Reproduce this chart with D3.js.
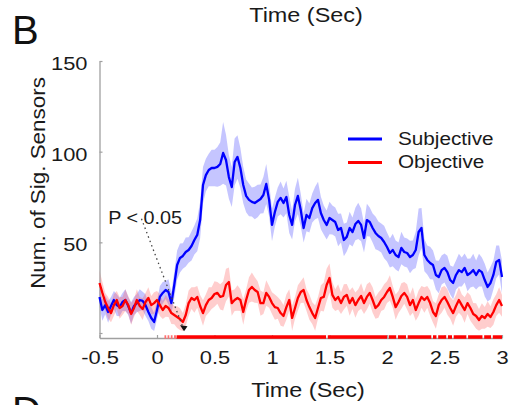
<!DOCTYPE html>
<html><head><meta charset="utf-8">
<script src="https://cdn.jsdelivr.net/npm/d3@7"></script>
<style>
html,body{margin:0;padding:0;background:#fff;}
svg{display:block;font-family:"Liberation Sans",Arial,Helvetica,sans-serif;}
</style></head><body>
<svg id="chart" width="514" height="405"></svg>
<script>
// ---------- data ----------
const timeStart = -0.5, timeStep = 0.025;
const subjectiveMean = [19.9,12.7,15.4,11.6,14.9,18.2,15.4,14.3,17.1,18.2,
14.9,11.0,14.9,16.5,18.2,17.7,15.4,11.6,8.3,6.1,
12.7,19.9,22.1,23.7,22.6,16.5,26.5,37.5,41.4,42.5,
44.7,45.8,48.0,51.3,54.1,62.3,81.6,87.1,89.9,91.0,
91.0,91.6,93.2,99.3,95.4,86.0,80.5,94.3,97.1,91.0,
81.6,75.6,73.4,72.3,71.7,72.8,73.9,76.1,82.2,73.4,
59.6,66.7,72.3,74.5,71.7,75.0,65.1,59.6,70.6,75.6,
67.8,57.9,65.1,63.4,68.9,71.7,73.4,66.2,62.3,59.6,
63.4,62.3,61.2,56.8,57.9,51.3,53.0,57.9,55.7,60.1,
61.8,59.6,52.4,62.3,61.2,57.9,55.2,53.5,52.4,50.2,
47.4,44.1,45.8,43.0,41.9,46.9,44.7,44.1,41.9,43.0,
45.8,55.7,57.9,43.0,40.3,38.6,37.5,32.0,30.9,34.7,
35.9,33.6,29.2,27.6,32.0,34.7,33.6,35.9,32.0,33.1,
34.7,32.0,34.7,33.6,29.2,25.4,27.6,32.0,39.2,40.3,
30.9];
const subjectiveErr = [5,6,5,6,5,5,6,5,5,6,
5,6,5,5,6,5,6,5,6,5,
5,6,6,5,7,6,7,8,8,7,
8,7,8,8,9,10,10,9,9,10,
10,11,12,17,14,12,11,13,12,11,
10,9,9,8,9,9,8,10,11,9,
9,8,8,9,8,9,10,8,9,10,
9,8,9,8,8,9,10,9,8,8,
9,8,8,9,8,9,8,9,8,9,
10,9,8,9,8,8,9,8,8,9,
8,8,9,8,8,9,8,8,9,8,
10,13,11,9,8,9,8,8,9,8,
8,9,8,9,8,9,8,8,9,8,
9,8,9,8,9,8,9,8,9,8,
9];
const objectiveMean = [27.6,22.1,17.1,13.8,11.0,15.4,18.2,13.8,14.9,18.2,
15.4,10.5,13.8,18.2,14.9,13.2,17.1,19.3,15.4,16.5,
18.2,15.4,12.7,14.9,13.8,11.0,9.9,8.8,7.7,6.1,
9.9,16.5,19.3,18.2,19.9,14.9,11.0,15.4,18.2,19.3,
21.5,22.1,19.9,20.4,26.5,28.1,16.5,18.2,19.3,18.2,
11.6,18.2,23.7,25.4,23.7,22.6,16.5,16.5,22.1,19.9,
16.5,14.3,13.8,11.0,9.4,14.3,18.2,8.3,13.8,19.3,
22.6,23.7,18.2,14.3,11.0,8.3,13.8,19.3,19.9,26.5,
30.3,21.0,18.2,19.9,16.5,19.9,21.0,16.5,19.3,15.4,
18.2,20.4,16.5,19.9,22.1,18.2,13.8,15.4,18.2,19.9,
22.6,24.8,19.9,14.3,17.1,20.4,22.1,19.9,15.4,18.2,
12.7,16.5,19.9,18.2,19.9,16.5,11.6,9.4,15.4,18.2,
19.9,17.1,13.8,11.0,14.9,18.2,15.4,12.7,16.5,13.8,
10.5,9.4,7.2,9.4,8.3,10.5,8.8,11.6,15.4,18.2,
14.9];
const objectiveErr = [7,6,5,6,5,6,5,6,5,6,
5,6,5,6,5,6,5,6,5,6,
5,6,5,6,5,6,5,6,6,5,
6,7,6,7,6,6,7,6,7,6,
7,6,7,8,9,8,7,6,7,6,
7,6,7,8,7,6,7,6,7,6,
6,7,6,7,6,7,6,7,6,7,
6,7,6,7,6,7,6,7,8,9,
8,7,6,7,6,7,6,7,6,7,
6,7,6,7,6,7,6,7,6,7,
6,7,6,7,6,7,6,7,6,7,
6,7,6,7,6,7,6,7,6,7,
6,7,6,7,6,7,6,7,6,7,
6,7,6,7,6,7,6,7,6,7,
6];
const seriesNames = ["Subjective", "Objective"];
const xTickValues = [-0.5, 0, 0.5, 1, 1.5, 2, 2.5, 3];
const xTickLabels = ["-0.5", "0", "0.5", "1", "1.5", "2", "2.5", "3"];
const yTickValues = [0, 50, 100, 150];
const yTickLabels = ["", "50", "100", "150"];
// significant time windows (sec)
const sigSegments = [[0.17,1.47],[1.485,2.0],[2.015,2.08],[2.095,2.165],[2.18,2.385],[2.40,2.43],
  [2.445,2.515],[2.53,2.565],[2.58,2.69],[2.705,2.83],[2.845,2.905],[2.92,3.0]];
const sigFaint = [[0.065,0.08],[0.092,0.107],[0.12,0.135],[0.148,0.165]];
// annotation (data coordinates)
const pAnnot = {text: "P < 0.05", labelT: -0.425, labelV: 63, fromT: -0.135, fromV: 63, toT: 0.235, toV: 1};

// ---------- styles ----------
const colors = {Subjective: "#0000ff", Objective: "#ff0000"};
const bandColors = {Subjective: "#5050ff", Objective: "#ff5a5a"};
const bandOpacity = {Subjective: 0.33, Objective: 0.3};
const textColor = "#1a1a1a";
const axisColor = "#a0a0a0";

// ---------- scales ----------
const svg = d3.select("#chart");
const x = d3.scaleLinear().domain([-0.5, 3]).range([99.5, 502]);
const y = d3.scaleLinear().domain([-2.75, 150]).range([338, 61]);

const times = subjectiveMean.map((_, i) => timeStart + i * timeStep);
const series = [
  {name: "Subjective", mean: subjectiveMean, err: subjectiveErr},
  {name: "Objective", mean: objectiveMean, err: objectiveErr}
];

function stretch(sel, k) {
  sel.each(function () {
    const w = this.getComputedTextLength();
    if (w > 0) {
      this.setAttribute("textLength", w * k);
      this.setAttribute("lengthAdjust", "spacingAndGlyphs");
    }
  });
}

// bands
const area = d3.area()
  .x((d, i) => x(times[i]))
  .y0(d => y(d[0] - d[1]))
  .y1(d => y(d[0] + d[1]));
series.forEach(s => {
  svg.append("path")
    .datum(s.mean.map((m, i) => [m, s.err[i]]))
    .attr("d", area)
    .attr("fill", bandColors[s.name])
    .attr("fill-opacity", bandOpacity[s.name]);
});

// axes
const yAxis = d3.axisLeft(y).tickValues(yTickValues)
  .tickFormat((d, i) => yTickLabels[i]).tickSizeInner(-3).tickSizeOuter(0).tickPadding(12);
const gy = svg.append("g").attr("transform", `translate(${x(-0.5)},0)`).call(yAxis);
const xAxis = d3.axisBottom(x).tickValues(xTickValues)
  .tickFormat((d, i) => xTickLabels[i]).tickSizeInner(-3).tickSizeOuter(0).tickPadding(0);
const gx = svg.append("g").attr("transform", `translate(0,${y(-2.75)})`).call(xAxis);
[gx, gy].forEach(g => {
  g.select(".domain").attr("stroke", axisColor).attr("stroke-width", 1.3);
  g.selectAll(".tick line").attr("stroke", axisColor).attr("stroke-width", 1.2);
  g.selectAll("text").attr("fill", textColor).style("font-size", "19px")
    .style("font-family", '"Liberation Sans", Arial, sans-serif');
});
gx.selectAll(".tick text").attr("y", 26).attr("dy", 0);
gy.selectAll(".tick text").attr("dy", "0.45em");
stretch(gx.selectAll(".tick text"), 1.15);
stretch(gy.selectAll(".tick text"), 1.15);

// mean lines
const line = d3.line().x((d, i) => x(times[i])).y(d => y(d));
series.forEach(s => {
  svg.append("path").datum(s.mean).attr("d", line)
    .attr("fill", "none").attr("stroke", colors[s.name])
    .attr("stroke-width", 2.3).attr("stroke-linejoin", "round");
});

// significance bar
svg.append("g").selectAll("line").data(sigFaint).join("line")
  .attr("x1", d => x(d[0])).attr("x2", d => x(d[1]))
  .attr("y1", y(-2.2)).attr("y2", y(-2.2))
  .attr("stroke", "#ff7070").attr("stroke-width", 3.5);
svg.append("g").selectAll("line").data(sigSegments).join("line")
  .attr("x1", d => x(d[0])).attr("x2", d => x(d[1]))
  .attr("y1", y(-2.2)).attr("y2", y(-2.2))
  .attr("stroke", colors.Objective).attr("stroke-width", 3.5);

// annotation
svg.append("line")
  .attr("x1", x(pAnnot.fromT)).attr("y1", y(pAnnot.fromV))
  .attr("x2", x(pAnnot.toT) - 1.5).attr("y2", y(pAnnot.toV) - 5)
  .attr("stroke", "#444").attr("stroke-width", 1.3).attr("stroke-dasharray", "1.5,3.2");
const tipX = x(pAnnot.toT), tipY = y(pAnnot.toV);
svg.append("path")
  .attr("d", `M${tipX},${tipY} L${tipX - 4},${tipY - 6} L${tipX + 3.5},${tipY - 5} Z`)
  .attr("fill", "#111");
const pText = svg.append("text")
  .attr("x", x(pAnnot.labelT)).attr("y", y(pAnnot.labelV) + 5)
  .attr("fill", textColor).style("font-size", "18px").text(pAnnot.text);
stretch(pText, 1.1);

// legend
const legend = svg.append("g");
seriesNames.forEach((n, i) => {
  const ly = 139 + i * 23.5;
  legend.append("line").attr("x1", 348).attr("x2", 382).attr("y1", ly).attr("y2", ly)
    .attr("stroke", colors[n]).attr("stroke-width", 3);
  const t = legend.append("text").attr("x", 398).attr("y", ly + 5.5)
    .attr("fill", textColor).style("font-size", "18px").text(n);
  stretch(t, 1.15);
});

// titles
const yTitle = svg.append("text")
  .attr("transform", `translate(45,183) rotate(-90)`)
  .attr("text-anchor", "middle").attr("fill", textColor)
  .style("font-size", "20px").text("Num. of Sig. Sensors");
stretch(yTitle, 1.12);
const xTitle = svg.append("text").attr("x", 308).attr("y", 397)
  .attr("text-anchor", "middle").attr("fill", textColor)
  .style("font-size", "20px").text("Time (Sec)");
stretch(xTitle, 1.17);
const topTitle = svg.append("text").attr("x", 306).attr("y", 22)
  .attr("text-anchor", "middle").attr("fill", textColor)
  .style("font-size", "20px").text("Time (Sec)");
stretch(topTitle, 1.17);
svg.append("text").attr("x", 12).attr("y", 44).attr("fill", "#111")
  .style("font-size", "40px").text("B");
svg.append("text").attr("x", 12).attr("y", 425).attr("fill", "#111")
  .style("font-size", "40px").text("D");
</script>
</body></html>
